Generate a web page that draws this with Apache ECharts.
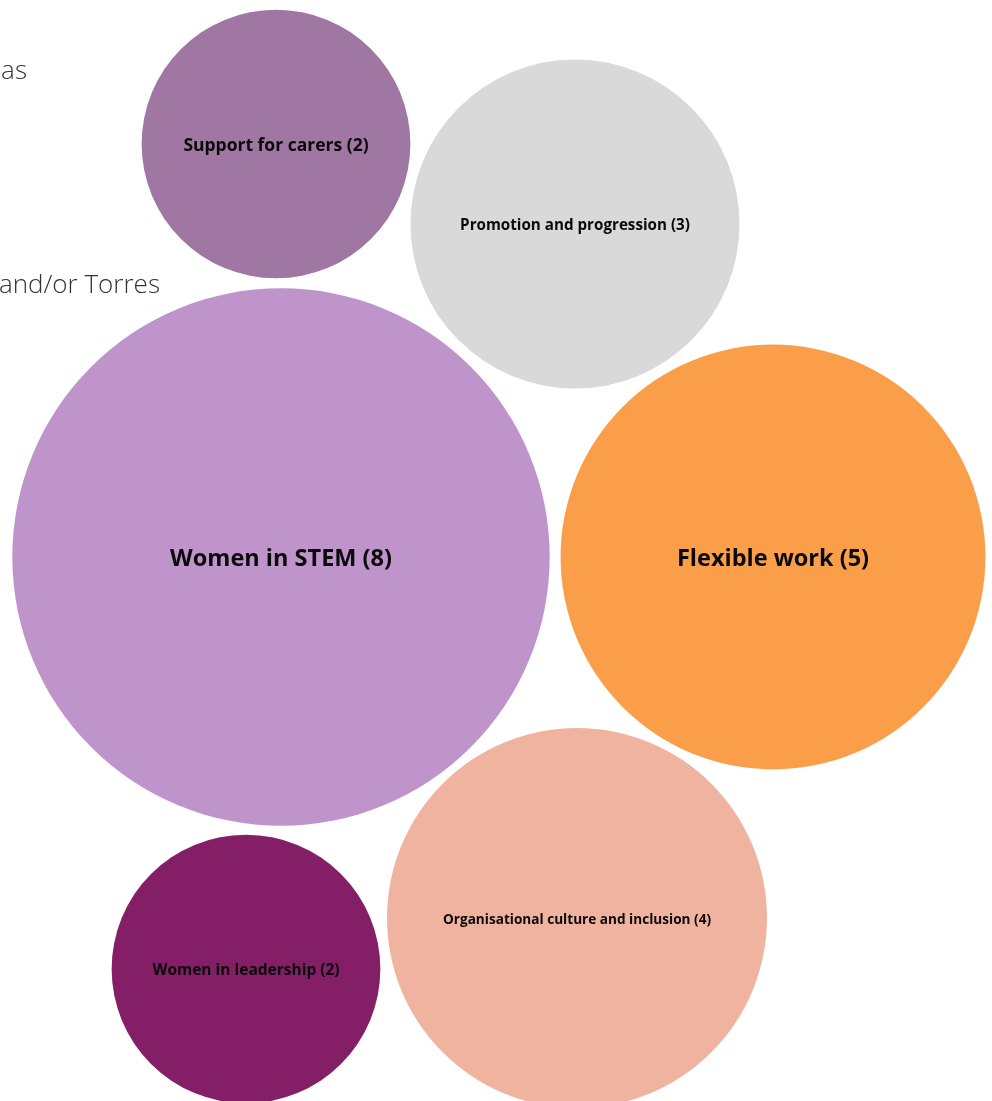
<!DOCTYPE html>
<html>
<head>
<meta charset="utf-8">
<script src="https://cdn.jsdelivr.net/npm/echarts@6/dist/echarts.min.js"></script>
<style>
  html, body { margin: 0; padding: 0; background: #fff; }
  #chart { width: 992px; height: 1101px; }
</style>
</head>
<body>
<div id="chart"></div>
<script>
// topics and how often they came up
const topics = ['Support for carers', 'Promotion and progression', 'Women in STEM',
                'Flexible work', 'Women in leadership', 'Organisational culture and inclusion'];
const counts = [2, 3, 8, 5, 2, 4];
// bubble centres in the packed layout
const cx = [276, 575, 281, 773, 246, 577];
const cy = [144, 224, 557, 557, 969, 918];

const colors = ['#a077a3', '#d9d9d9', '#bf94cb', '#fb9e4a', '#841f67', '#f0b3a0'];
const labelSizes = [17.5, 15.2, 23.5, 23.5, 15.5, 13.6];

const chart = echarts.init(document.getElementById('chart'));

chart.setOption({
    animation: false,
    grid: {left: 0, right: 0, top: 0, bottom: 0},
    xAxis: {type: 'value', min: 0, max: 992, show: false},
    yAxis: {type: 'value', min: 0, max: 1101, inverse: true, show: false},
    graphic: [
        {type: 'text', right: 992 - 27, top: 59,
         style: {text: 'as', font: '300 26px "Open Sans"', fill: '#333'}},
        {type: 'text', right: 992 - 160, top: 273,
         style: {text: 'and/or Torres', font: '300 26px "Open Sans"', fill: '#333'}}
    ],
    series: [{
        type: 'scatter',
        symbol: 'circle',
        symbolSize: d => 190 * Math.sqrt(d[2]),
        data: topics.map((t, i) => ({
            name: t,
            value: [cx[i], cy[i], counts[i]],
            itemStyle: {color: colors[i], opacity: 1},
            label: {fontSize: labelSizes[i]}
        })),
        label: {
            show: true,
            position: 'inside',
            offset: [0, 2],
            formatter: p => p.name + ' (' + p.value[2] + ')',
            color: '#0a0a0a',
            fontFamily: '"Open Sans"',
            fontWeight: 'bold'
        },
        emphasis: {disabled: true}
    }]
});
</script>
</body>
</html>
